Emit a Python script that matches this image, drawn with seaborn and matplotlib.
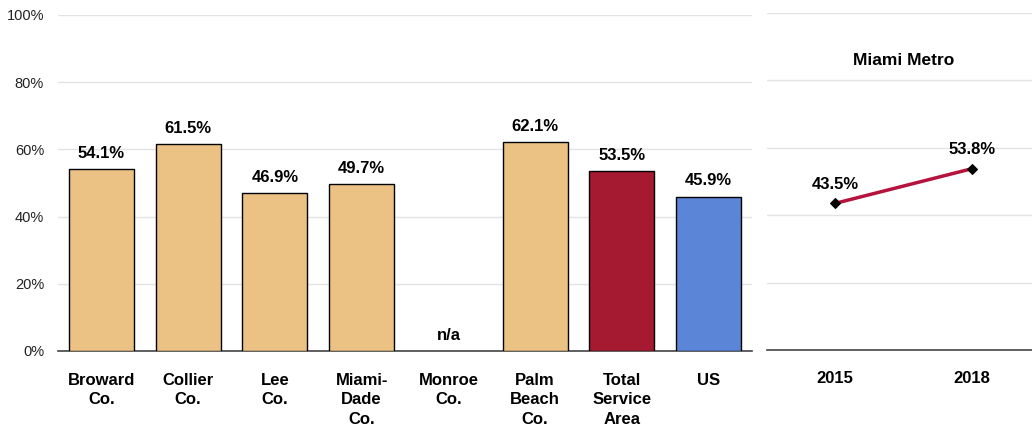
import numpy as np
import pandas as pd
import matplotlib
matplotlib.use("Agg")
import matplotlib.pyplot as plt
import seaborn as sns

categories = ["Broward\nCo.", "Collier\nCo.", "Lee\nCo.", "Miami-\nDade\nCo.", "Monroe\nCo.",
              "Palm\nBeach\nCo.", "Total\nService\nArea", "US"]
values = [54.1, 61.5, 46.9, 49.7, np.nan, 62.1, 53.5, 45.9]
bar_colors = ["#ECC184", "#ECC184", "#ECC184", "#ECC184", "#ECC184", "#ECC184", "#A51931", "#5B86D7"]
years = ["2015", "2018"]
metro_values = [43.5, 53.8]
yticks = [0, 20, 40, 60, 80, 100]
ytick_labels = ["0%", "20%", "40%", "60%", "80%", "100%"]

sns.set_theme(style="white")
plt.rcParams["font.family"] = ["Liberation Sans", "DejaVu Sans"]
plt.rcParams["text.color"] = "black"
plt.rcParams["xtick.color"] = "black"
plt.rcParams["ytick.color"] = "black"

fig = plt.figure(figsize=(10.32, 4.28), dpi=100)
ax = fig.add_axes([58/1032, 1-351/428, (752-58)/1032, (351-15)/428])
ax2 = fig.add_axes([767/1032, 1-350/428, (1032-767)/1032, (350-13)/428])

df = pd.DataFrame({"cat": categories, "val": values})
sns.barplot(data=df, x="cat", y="val", hue="cat", palette=bar_colors, legend=False,
            saturation=1, width=0.75, edgecolor="black", linewidth=1, ax=ax, zorder=3)
ax.set_ylim(0, 100)
ax.set_xlim(-0.5, 7.5)
ax.set_yticks(yticks)
ax.set_yticklabels(ytick_labels, fontsize=10.5, color="#222222")
ax.yaxis.grid(True, color="#E3E3E3", linewidth=1, zorder=0)
ax.set_axisbelow(True)
ax.set_xlabel("")
ax.set_ylabel("")
for s in ["left", "right", "top"]:
    ax.spines[s].set_visible(False)
ax.spines["bottom"].set_color("#444444")
ax.spines["bottom"].set_linewidth(1.2)
ax.tick_params(axis="y", length=0, pad=10)
ax.tick_params(axis="x", length=0, pad=16)
for lbl in ax.get_xticklabels():
    lbl.set_fontweight("bold")
    lbl.set_fontsize(12)
    lbl.set_verticalalignment("top")
    lbl.set_linespacing(1.35)
for i, v in enumerate(values):
    if np.isnan(v):
        ax.text(i, 2.5, "n/a", ha="center", va="bottom", fontsize=12, fontweight="bold")
    else:
        ax.text(i, v + 2.5, f"{v:.1f}%", ha="center", va="bottom", fontsize=12, fontweight="bold")

df2 = pd.DataFrame({"year": years, "val": metro_values})
sns.lineplot(data=df2, x="year", y="val", ax=ax2, color="#B5123C", linewidth=2.5,
             marker="D", markersize=5, markerfacecolor="black", markeredgecolor="black", zorder=3)
ax2.set_ylim(0, 100)
ax2.set_xlim(-0.496, 1.438)
ax2.set_yticks(yticks)
ax2.set_yticklabels([])
ax2.yaxis.grid(True, color="#E3E3E3", linewidth=1, zorder=0)
ax2.set_xlabel("")
ax2.set_ylabel("")
for s in ["left", "right", "top"]:
    ax2.spines[s].set_visible(False)
ax2.spines["bottom"].set_color("#444444")
ax2.spines["bottom"].set_linewidth(1.2)
ax2.tick_params(axis="y", length=0)
ax2.tick_params(axis="x", length=0, pad=15)
for lbl in ax2.get_xticklabels():
    lbl.set_fontweight("bold")
    lbl.set_fontsize(12)
for i, v in enumerate(metro_values):
    ax2.text(i, v + 3.5, f"{v:.1f}%", ha="center", va="bottom", fontsize=12, fontweight="bold")
ax2.text(0.5, 86, "Miami Metro", ha="center", va="center", fontsize=12.5, fontweight="bold")

fig.savefig("out.png", dpi=100)
